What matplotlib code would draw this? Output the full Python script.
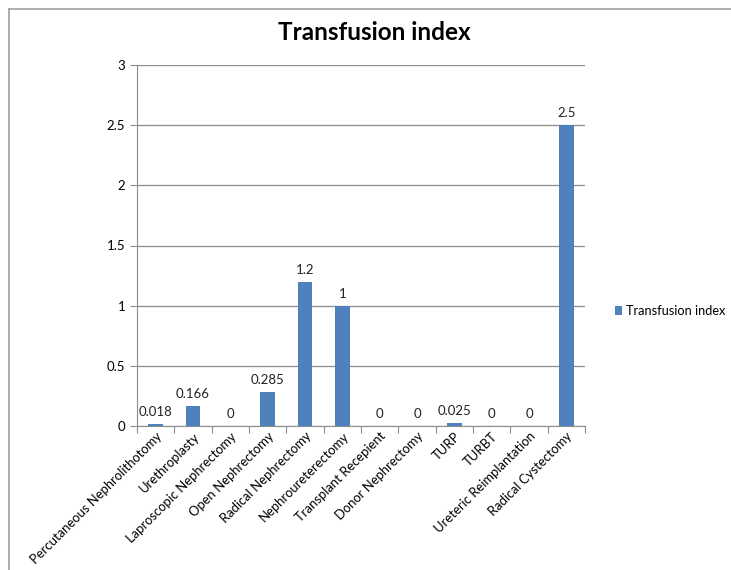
import matplotlib.pyplot as plt
from matplotlib.lines import Line2D
import numpy as np

procedures = ['Percutaneous Nephrolithotomy', 'Urethroplasty', 'Laproscopic Nephrectomy',
              'Open Nephrectomy', 'Radical Nephrectomy', 'Nephroureterectomy',
              'Transplant Recepient', 'Donor Nephrectomy', 'TURP', 'TURBT',
              'Ureteric Reimplantation', 'Radical Cystectomy']
index_values = [0.018, 0.166, 0, 0.285, 1.2, 1, 0, 0, 0.025, 0, 0, 2.5]
value_labels = ['0.018', '0.166', '0', '0.285', '1.2', '1', '0', '0', '0.025', '0', '0', '2.5']

plt.rcParams['font.family'] = ['Lato', 'DejaVu Sans']

fig = plt.figure(figsize=(7.31, 5.70), dpi=100)
W, H = 731, 570
ax = fig.add_axes([137 / W, 1 - 426 / H, (585 - 137) / W, (426 - 65) / H])

x = np.arange(len(procedures))
ax.bar(x, index_values, width=0.4, color='#4F81BD', zorder=3, label='Transfusion index')

for xi, v, lab in zip(x, index_values, value_labels):
    ax.text(xi, v + 0.05, lab, ha='center', va='bottom', fontsize=9.5, color='#222222')

ax.set_xlim(-0.5, len(procedures) - 0.5)
ax.set_ylim(0, 3)
ax.set_yticks([0, 0.5, 1, 1.5, 2, 2.5, 3])
ax.set_yticklabels(['0', '0.5', '1', '1.5', '2', '2.5', '3'], fontsize=9.5)
ax.yaxis.grid(True, color='#8C8C8C', linewidth=0.9, zorder=0)

ax.set_xticks(np.arange(len(procedures) + 1) - 0.5)
ax.set_xticklabels([])
ax.set_xticks(x, minor=True)
ax.set_xticklabels(procedures, minor=True, rotation=45, ha='right', rotation_mode='anchor',
                   fontsize=9.4)
ax.tick_params(axis='x', which='minor', length=0, pad=3)
ax.tick_params(axis='x', which='major', length=5, color='#8C8C8C')
ax.tick_params(axis='y', length=5, color='#8C8C8C')

for s in ['top', 'right']:
    ax.spines[s].set_visible(False)
for s in ['left', 'bottom']:
    ax.spines[s].set_color('#8C8C8C')

fig.text(374 / W, 1 - 33 / H, 'Transfusion index', ha='center', va='center',
         fontsize=17.5, fontweight='bold')

ax.legend(loc='center left', bbox_to_anchor=(603 / W, 1 - 311 / H), bbox_transform=fig.transFigure,
          frameon=False, fontsize=9.2, handlelength=0.6, handleheight=0.6, handletextpad=0.3)

fig.add_artist(Line2D([9 / W, 9 / W], [0, 1 - 9 / H], transform=fig.transFigure,
                      color='#A0A0A0', linewidth=1.2))
fig.add_artist(Line2D([9 / W, 1], [1 - 9 / H, 1 - 9 / H], transform=fig.transFigure,
                      color='#A0A0A0', linewidth=1.2))

fig.savefig('out.png', dpi=100)
